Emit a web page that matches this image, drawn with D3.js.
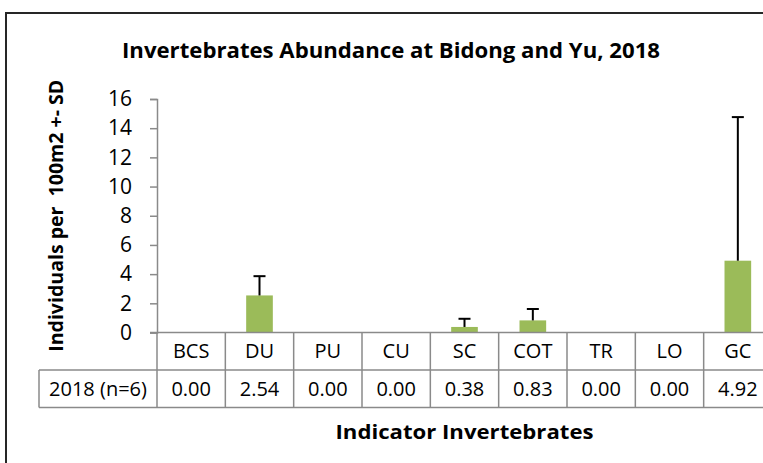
<!DOCTYPE html>
<html lang="en">
<head>
    <meta charset="utf-8">
    <style type="text/css">
        body { margin: 0; background: #fff; }
        svg { display: block; font-family: "Open Sans", "Noto Sans", sans-serif; }
        .tbl { stroke: #8a8a8a; stroke-width: 1.5px; fill: none; }
    </style>
</head>
<body>
<svg width="763" height="463"></svg>

<script src="https://d3js.org/d3.v7.min.js"></script>
<script type="text/javascript">
    // data
    var categories = ["BCS", "DU", "PU", "CU", "SC", "COT", "TR", "LO", "GC"];
    var means = [0.00, 2.54, 0.00, 0.00, 0.38, 0.83, 0.00, 0.00, 4.92];
    var sds = [0, 1.32, 0, 0, 0.56, 0.78, 0, 0, 9.84];
    var yTicks = [0, 2, 4, 6, 8, 10, 12, 14, 16];
    var seriesName = "2018 (n=6)";

    var svg = d3.select("svg");

    // plot area (the chart runs past the right edge of the window, as in the picture)
    var plotLeft = 157, plotRight = 772, plotTop = 99, plotBottom = 332.5;
    var rowH = 37.5;

    var x = d3.scaleBand().domain(categories).range([plotLeft, plotRight]).padding(0);
    var y = d3.scaleLinear().domain([0, 16]).range([plotBottom, plotTop]);
    var barW = x.bandwidth() * 0.39;

    // outer chart border
    svg.append("rect")
        .attr("x", 6).attr("y", 13)
        .attr("width", 790).attr("height", 480)
        .attr("fill", "none")
        .attr("stroke", "#262626")
        .attr("stroke-width", 2);

    // title
    svg.append("text")
        .attr("x", 391).attr("y", 58)
        .attr("text-anchor", "middle")
        .attr("font-size", 21)
        .attr("font-weight", "bold")
        .attr("textLength", 538)
        .attr("lengthAdjust", "spacingAndGlyphs")
        .text("Invertebrates Abundance at Bidong and Yu, 2018");

    // y axis
    var yAxis = d3.axisLeft(y).tickValues(yTicks).tickSize(7).tickPadding(18).tickFormat(d3.format("d"));
    var gy = svg.append("g")
        .attr("transform", "translate(" + plotLeft + ",0)")
        .call(yAxis);
    gy.select(".domain").attr("stroke", "#8a8a8a").attr("stroke-width", 1.5);
    gy.selectAll(".tick line").attr("stroke", "#8a8a8a").attr("stroke-width", 1.5);
    gy.selectAll(".tick text")
        .attr("font-size", 21)
        .attr("font-family", "'Open Sans', sans-serif")
        .attr("fill", "#000");

    svg.append("text")
        .attr("transform", "translate(56," + ((plotTop + plotBottom) / 2) + ") rotate(-90)")
        .attr("text-anchor", "middle")
        .attr("dy", "0.35em")
        .attr("font-size", 19)
        .attr("font-weight", "bold")
        .attr("textLength", 272)
        .attr("lengthAdjust", "spacingAndGlyphs")
        .style("white-space", "pre")
        .text("Individuals per  100m2 +- SD");

    // bars
    var bars = categories.map(function (c, i) {
        return {cat: c, mean: means[i], sd: sds[i]};
    }).filter(function (d) { return d.mean > 0; });

    svg.selectAll(".bar")
        .data(bars)
        .enter()
        .append("rect")
        .attr("class", "bar")
        .attr("x", function (d) { return x(d.cat) + (x.bandwidth() - barW) / 2; })
        .attr("y", function (d) { return y(d.mean); })
        .attr("width", barW)
        .attr("height", function (d) { return y(0) - y(d.mean); })
        .attr("fill", "#9bbb59");

    // error bars (upper only)
    var err = svg.selectAll(".err")
        .data(bars)
        .enter()
        .append("g")
        .attr("class", "err")
        .attr("stroke", "#000")
        .attr("stroke-width", 2);
    err.append("line")
        .attr("x1", function (d) { return x(d.cat) + x.bandwidth() / 2; })
        .attr("x2", function (d) { return x(d.cat) + x.bandwidth() / 2; })
        .attr("y1", function (d) { return y(d.mean); })
        .attr("y2", function (d) { return y(d.mean + d.sd); });
    err.append("line")
        .attr("x1", function (d) { return x(d.cat) + x.bandwidth() / 2 - 6; })
        .attr("x2", function (d) { return x(d.cat) + x.bandwidth() / 2 + 6; })
        .attr("y1", function (d) { return y(d.mean + d.sd); })
        .attr("y2", function (d) { return y(d.mean + d.sd); });

    // data table under the axis
    var tbl = svg.append("g");
    var rowTop = plotBottom, rowMid = plotBottom + rowH, rowBot = plotBottom + 2 * rowH;
    var boxLeft = 39;

    // x axis line (also the top of the table)
    tbl.append("line").attr("class", "tbl")
        .attr("x1", plotLeft - 7).attr("x2", plotRight).attr("y1", rowTop).attr("y2", rowTop);
    tbl.append("line").attr("class", "tbl")
        .attr("x1", boxLeft).attr("x2", plotRight).attr("y1", rowMid).attr("y2", rowMid);
    tbl.append("line").attr("class", "tbl")
        .attr("x1", boxLeft).attr("x2", plotRight).attr("y1", rowBot).attr("y2", rowBot);
    tbl.append("line").attr("class", "tbl")
        .attr("x1", boxLeft).attr("x2", boxLeft).attr("y1", rowMid).attr("y2", rowBot);

    var edges = categories.map(function (c) { return x(c); }).concat([plotRight]);
    tbl.selectAll(".vline")
        .data(edges)
        .enter()
        .append("line")
        .attr("class", "tbl")
        .attr("x1", function (d) { return d; })
        .attr("x2", function (d) { return d; })
        .attr("y1", rowTop)
        .attr("y2", rowBot);

    tbl.selectAll(".cat")
        .data(categories)
        .enter()
        .append("text")
        .attr("x", function (d) { return x(d) + x.bandwidth() / 2; })
        .attr("y", rowTop + rowH / 2)
        .attr("dy", "0.36em")
        .attr("text-anchor", "middle")
        .attr("font-size", 20)
        .text(function (d) { return d; });

    tbl.selectAll(".val")
        .data(means)
        .enter()
        .append("text")
        .attr("x", function (d, i) { return x(categories[i]) + x.bandwidth() / 2; })
        .attr("y", rowMid + rowH / 2)
        .attr("dy", "0.36em")
        .attr("text-anchor", "middle")
        .attr("font-size", 20)
        .text(function (d) { return d3.format(".2f")(d); });

    tbl.append("text")
        .attr("x", (boxLeft + plotLeft) / 2)
        .attr("y", rowMid + rowH / 2)
        .attr("dy", "0.36em")
        .attr("text-anchor", "middle")
        .attr("font-size", 20)
        .text(seriesName);

    // x axis title
    svg.append("text")
        .attr("x", (plotLeft + plotRight) / 2)
        .attr("y", 432)
        .attr("dy", "0.35em")
        .attr("text-anchor", "middle")
        .attr("font-size", 20)
        .attr("font-weight", "bold")
        .attr("textLength", 258)
        .attr("lengthAdjust", "spacingAndGlyphs")
        .text("Indicator Invertebrates");
</script>
</body>
</html>
